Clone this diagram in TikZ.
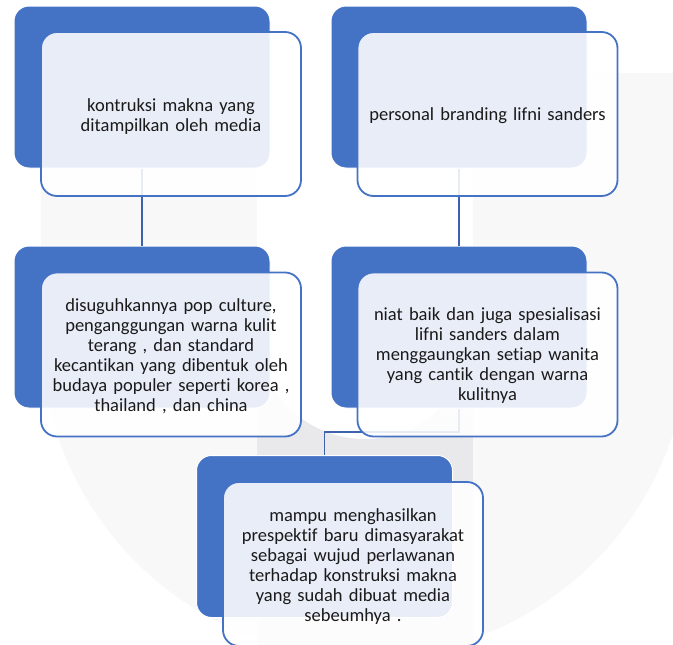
\documentclass[tikz,border=0pt]{standalone}
\usepackage{fontspec}
\setmainfont{Carlito}[Ligatures={NoCommon,NoContextual}]
\definecolor{accent}{HTML}{4472C4}
\definecolor{conn}{HTML}{3E63AC}
\definecolor{wmlight}{HTML}{F8F8F9}
\definecolor{wmdark}{HTML}{E9E9EB}
\definecolor{txt}{HTML}{1A1A1A}
\begin{document}
\begin{tikzpicture}[x=1pt,y=-1pt,
  darkbox/.style={rectangle, rounded corners=15pt, fill=accent, draw=white, line width=1pt,
    minimum width=256pt, minimum height=162pt, inner sep=0pt},
  lightbox/.style={rectangle, rounded corners=16pt, fill=white, fill opacity=0.88,
    draw=accent, line width=1.8pt, minimum width=260pt, minimum height=164pt, inner sep=0pt},
  boxtext/.style={inner sep=0pt, align=center, text width=250pt,
    font=\fontsize{18.5}{20}\selectfont, text=txt},
  conline/.style={draw=conn, line width=1.8pt}]
\useasboundingbox (0,0) rectangle (673,645);
% faint watermark
\begin{scope}
\clip (0,0) rectangle (673,645);
\fill[wmlight] (41,73) -- (689,73) -- (689,333) arc[start angle=0, end angle=180, radius=324] -- cycle;
\fill[wmdark] (257,331) rectangle (473,660);
\fill[white] (257,60) -- (473,60) -- (473,331) arc[start angle=0, end angle=180, radius=108] -- cycle;
\end{scope}
% dark boxes
\node[darkbox] (d1) at (142,87) {};
\node[darkbox] (d2) at (459,87) {};
\node[darkbox] (d3) at (142,327) {};
\node[darkbox] (d4) at (459,327) {};
\node[darkbox] (d5) at (324.5,536.5) {};
% connectors
\coordinate (m) at (400,432);
\draw[conline] (d1.south) -- (d3.north);
\draw[conline] (d2.south) -- (d4.north);
\draw[conline] (d4.south) |- (m) -| (d5.north);
% light boxes
\node[lightbox] (l1) at (171,114) {};
\node[lightbox] (l2) at (487.5,114) {};
\node[lightbox] (l3) at (171,354.5) {};
\node[lightbox] (l4) at (487.5,354.5) {};
\node[lightbox] (l5) at (353,564) {};
% texts
\node[boxtext] (t1) at ([yshift=-2.5pt]l1.center) {kontruksi makna yang\\ditampilkan oleh media};
\node[boxtext] (t2) at ([yshift=-1.5pt]l2.center) {personal branding lifni sanders};
\node[boxtext] (t3) at ([yshift=-1.5pt]l3.center) {disuguhkannya pop culture,\\penganggungan warna kulit\\terang , dan standard\\kecantikan yang dibentuk oleh\\budaya populer seperti korea ,\\thailand , dan china};
\node[boxtext] (t4) at ([yshift=-1.5pt]l4.center) {niat baik dan juga spesialisasi\\lifni sanders dalam\\menggaungkan setiap wanita\\yang cantik dengan warna\\kulitnya};
\node[boxtext] (t5) at ([yshift=-2.5pt]l5.center) {mampu menghasilkan\\prespektif baru dimasyarakat\\sebagai wujud perlawanan\\terhadap konstruksi makna\\yang sudah dibuat media\\sebeumhya .};
\end{tikzpicture}
\end{document}
